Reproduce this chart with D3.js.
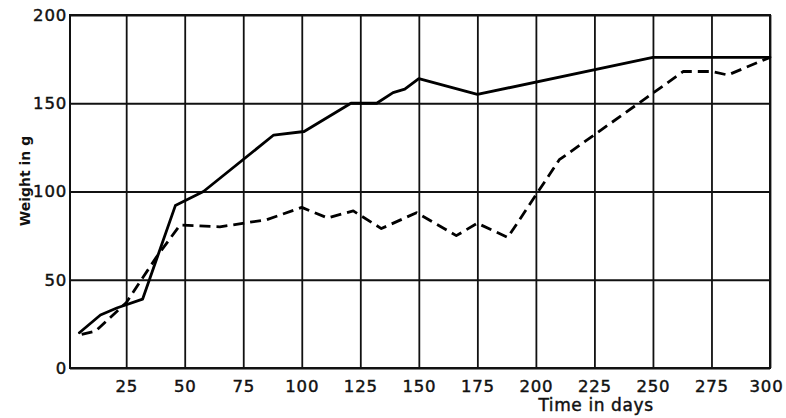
<!DOCTYPE html>
<html>
<head>
<meta charset="utf-8">
<script src="https://cdn.jsdelivr.net/npm/d3@7"></script>
<style>
  html, body { margin: 0; padding: 0; background: #fff; }
  svg { display: block; }
  text { font-family: "DejaVu Sans", sans-serif; fill: #111; }
</style>
</head>
<body>
<svg id="chart" width="786" height="418"></svg>
<script>
// ---- data ----
const xTicks = [25, 50, 75, 100, 125, 150, 175, 200, 225, 250, 275, 300];
const yTicks = [0, 50, 100, 150, 200];
const xLabel = "Time in days";
const yLabel = "Weight in g";

// solid curve
const solidDay    = [5, 14, 21, 32, 46, 58, 88, 101, 121, 132, 139, 144, 150, 175, 250, 300];
const solidWeight = [20, 30, 34, 39, 92, 100, 132, 134, 150, 150, 156, 158, 164, 155, 176, 176];

// dashed curve
const dashedDay    = [6, 12, 25, 38, 48, 65, 85, 100, 111, 122, 134, 149, 166, 175, 188, 210, 263, 275, 282, 300];
const dashedWeight = [19, 21, 37, 63, 81, 80, 84, 91, 85, 89, 79, 88, 75, 82, 74, 118, 168, 168, 166, 176];

// ---- drawing ----
const svg = d3.select("#chart");
const mLeft = 70, mRight = 770, mTop = 15, mBottom = 368;

const x = d3.scaleLinear().domain([1, 300]).range([mLeft, mRight]);
const y = d3.scaleLinear().domain([0, 200]).range([mBottom, mTop]);

const g = svg.append("g");

function styleText(sel, size) {
  sel.attr("font-size", size).attr("letter-spacing", 0.8).attr("fill", "#111")
     .attr("stroke", "#111").attr("stroke-width", 0.45)
     .attr("font-family", "DejaVu Sans, sans-serif");
}

// vertical grid + x labels
const xAxis = d3.axisBottom(x).tickValues(xTicks).tickSizeInner(-(mBottom - mTop)).tickSizeOuter(0).tickPadding(12);
const gx = g.append("g").attr("transform", `translate(0,${mBottom})`).call(xAxis);
gx.select(".domain").remove();
gx.selectAll(".tick line").attr("stroke", "#111").attr("stroke-width", 1.8);
styleText(gx.selectAll(".tick text"), 16.5);
gx.selectAll(".tick text").filter(d => d === 300).attr("dx", -4);

// horizontal grid + y labels
const yAxis = d3.axisLeft(y).tickValues(yTicks).tickSizeInner(-(mRight - mLeft)).tickSizeOuter(0).tickPadding(3);
const gy = g.append("g").attr("transform", `translate(${mLeft},0)`).call(yAxis);
gy.select(".domain").remove();
gy.selectAll(".tick line").attr("stroke", "#111").attr("stroke-width", 1.8);
styleText(gy.selectAll(".tick text"), 16.5);

// frame
g.append("rect").attr("x", mLeft).attr("y", mTop).attr("width", mRight - mLeft).attr("height", mBottom - mTop)
  .attr("fill", "none").attr("stroke", "#111").attr("stroke-width", 2);

// lines
const line = d3.line().x(d => x(d[0])).y(d => y(d[1])).curve(d3.curveLinear);
const solid = solidDay.map((d, i) => [d, solidWeight[i]]);
const dashed = dashedDay.map((d, i) => [d, dashedWeight[i]]);

g.append("path").datum(solid).attr("d", line)
  .attr("fill", "none").attr("stroke", "#000").attr("stroke-width", 2.8)
  .attr("stroke-linejoin", "round").attr("stroke-linecap", "round");

g.append("path").datum(dashed).attr("d", line)
  .attr("fill", "none").attr("stroke", "#000").attr("stroke-width", 2.8)
  .attr("stroke-dasharray", "11,6").attr("stroke-linejoin", "round");

// axis titles
svg.append("text").attr("x", 596).attr("y", 411).attr("text-anchor", "middle")
  .attr("font-size", 17).attr("letter-spacing", 0.6)
  .attr("stroke", "#111").attr("stroke-width", 0.45).text(xLabel);
svg.append("text").attr("transform", "translate(30,181) rotate(-90)").attr("text-anchor", "middle")
  .attr("font-family", "Liberation Sans, sans-serif").attr("font-weight", "bold")
  .attr("font-size", 14).text(yLabel);
</script>
</body>
</html>
